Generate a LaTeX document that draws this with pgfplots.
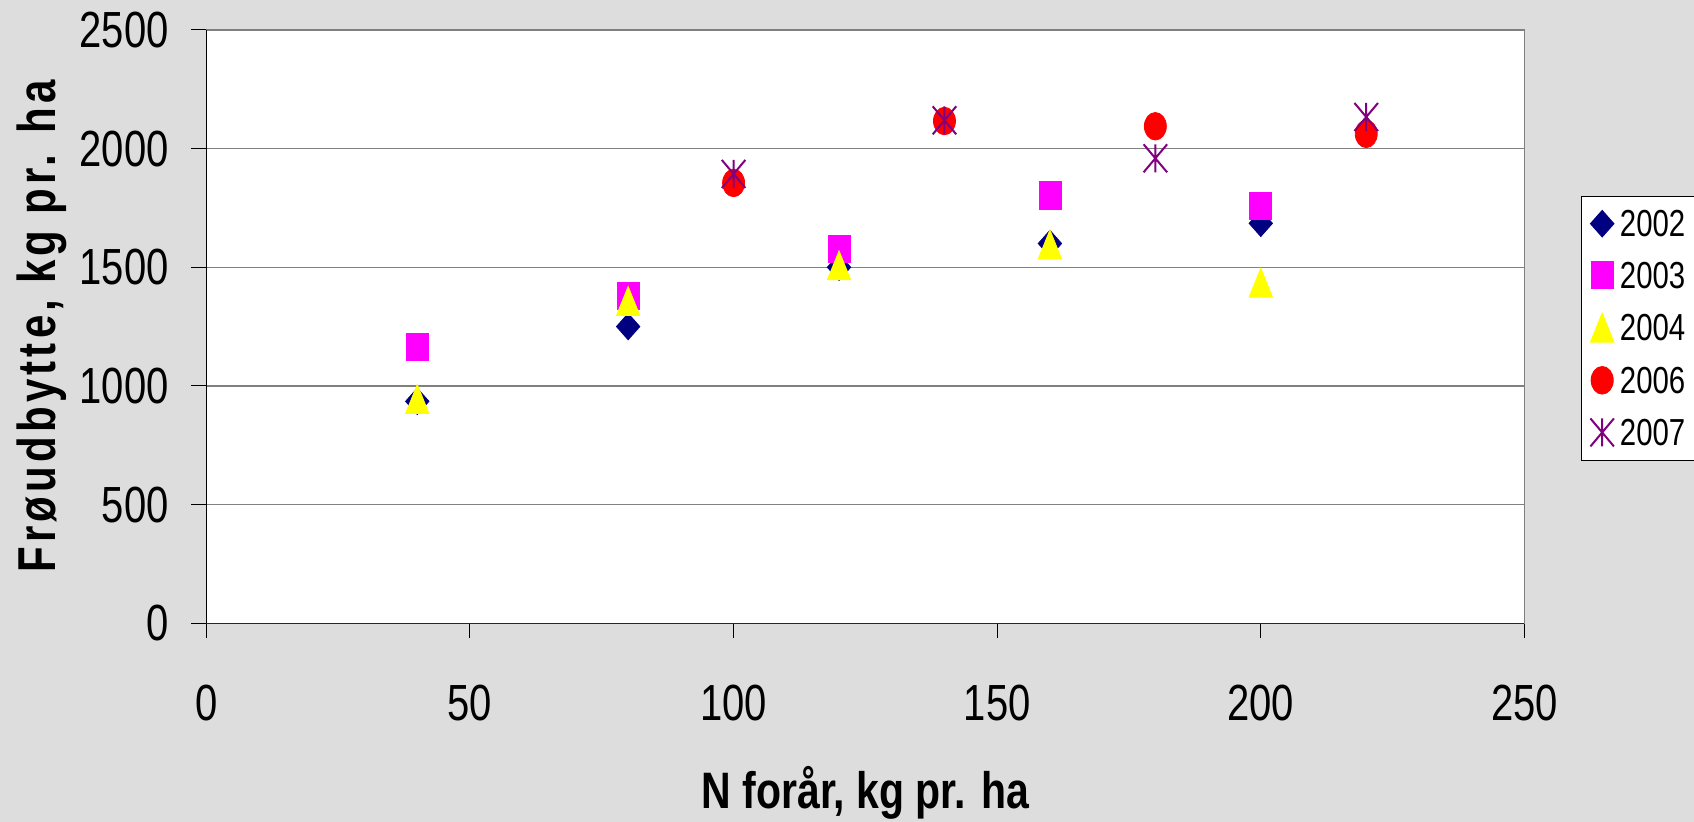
\documentclass[border=0pt]{standalone}
\usepackage{pgfplots}
\pgfplotsset{compat=1.18}
\usepackage{fontspec}
\setmainfont{Liberation Sans}
\newfontfamily\ylfont[LetterSpace=10]{Liberation Sans}
\definecolor{bg}{RGB}{221,221,221}
\definecolor{gridgray}{RGB}{128,128,128}
\definecolor{c2002}{RGB}{0,0,128}
\definecolor{c2003}{RGB}{255,0,255}
\definecolor{c2004}{RGB}{255,255,0}
\definecolor{c2006}{RGB}{255,0,0}
\definecolor{c2007}{RGB}{128,0,128}
\pgfdeclareplotmark{xstar}{%
  \pgfpathmoveto{\pgfqpoint{0pt}{-\pgfplotmarksize}}%
  \pgfpathlineto{\pgfqpoint{0pt}{\pgfplotmarksize}}%
  \pgfpathmoveto{\pgfqpoint{-0.84\pgfplotmarksize}{-\pgfplotmarksize}}%
  \pgfpathlineto{\pgfqpoint{0.84\pgfplotmarksize}{\pgfplotmarksize}}%
  \pgfpathmoveto{\pgfqpoint{-0.84\pgfplotmarksize}{\pgfplotmarksize}}%
  \pgfpathlineto{\pgfqpoint{0.84\pgfplotmarksize}{-\pgfplotmarksize}}%
  \pgfusepathqstroke}
\begin{document}
\begin{tikzpicture}
\fill[bg] (-103.2pt,-99.35pt) rectangle (743.8pt,311.65pt);
\useasboundingbox (-103.2pt,-99.35pt) rectangle (743.8pt,311.65pt);
\begin{axis}[
  at={(0pt,0pt)}, anchor=south west,
  scale only axis, width=659pt, height=296.7pt,
  xmin=0, xmax=250, ymin=0, ymax=2500,
  xtick={0,50,100,150,200,250}, ytick={0,500,1000,1500,2000,2500},
  minor tick num=0,
  xtick pos=left, ytick pos=left,
  tick align=outside, major tick length=7.5pt,
  every tick/.style={black, line width=0.5pt},
  ymajorgrids, major grid style={draw=gridgray, line width=0.6pt},
  axis line style={draw=gridgray, line width=0.75pt},
  axis background/.style={fill=white},
  scaled ticks=false,
  /pgf/number format/1000 sep={},
  /pgf/number format/assume math mode=true,
  ticklabel style={font=\fontsize{20}{24}\selectfont, inner sep=0pt},
  xticklabel style={anchor=north, yshift=-23.35pt},
  yticklabel style={anchor=east, xshift=-11.2pt},
  xticklabel={\scalebox{1}[1.27]{\pgfmathprintnumber{\tick}}},
  yticklabel={\scalebox{1}[1.27]{\pgfmathprintnumber{\tick}}},
  xlabel={\scalebox{1}[1.25]{\bfseries N forår, kg pr. ha}},
  ylabel={\scalebox{1}[1.27]{\ylfont\bfseries Frøudbytte, kg pr. ha}},
  xlabel style={at={(axis description cs:0.5,0)}, anchor=base, yshift=-92.85pt, font=\fontsize{20.5}{24}\selectfont, inner sep=0pt},
  ylabel style={at={(axis description cs:-0.11487,0.5)}, anchor=base, font=\fontsize{21}{25}\selectfont, inner sep=0pt},
  legend style={at={(1.0429,0.7201)}, anchor=north west, draw=black, line width=0.5pt, fill=white,
    inner xsep=4.5pt, inner ysep=7pt, row sep=12.2pt, column sep=3pt,
    font=\fontsize{14.7}{17}\selectfont, nodes={inner sep=0pt, text depth=0pt}},
  legend cell align=left,
  mk/.style={only marks, legend image code/.code={\draw[##1] plot coordinates {(0pt,0pt)};}},
  after end axis/.code={
    \draw[black, line width=0.6pt] (rel axis cs:0,0) -- (rel axis cs:0,1);
    \draw[black!85, line width=0.7pt] (rel axis cs:0,0) -- (rel axis cs:1,0);
  },
]
\addplot[mk, mark=diamond*, color=c2002, mark size=6pt, mark options={xscale=1.3, yscale=1.1, solid}]
  coordinates {(40,935) (80,1250) (120,1500) (160,1600) (200,1685)};
\addlegendentry{\scalebox{1}[1.28]{2002}}
\addplot[mk, mark=square*, color=c2003, mark size=5.5pt, mark options={yscale=1.25}]
  coordinates {(40,1165) (80,1380) (120,1578) (160,1803) (200,1759)};
\addlegendentry{\scalebox{1}[1.28]{2003}}
\addplot[mk, mark=triangle*, color=c2004, mark size=6.75pt, mark options={yshift=-2.4pt, yscale=1.43}]
  coordinates {(40,945) (80,1358) (120,1508) (160,1596) (200,1435)};
\addlegendentry{\scalebox{1}[1.28]{2004}}
\addplot[mk, mark=*, color=c2006, mark size=5.5pt, mark options={yscale=1.25}]
  coordinates {(100,1855) (140,2116) (180,2094) (220,2062)};
\addlegendentry{\scalebox{1}[1.28]{2006}}
\addplot[mk, mark=xstar, color=c2007, mark size=7pt, mark options={line width=1pt}]
  coordinates {(100,1893) (140,2119) (180,1959) (220,2133)};
\addlegendentry{\scalebox{1}[1.28]{2007}}
\end{axis}
\end{tikzpicture}
\end{document}
